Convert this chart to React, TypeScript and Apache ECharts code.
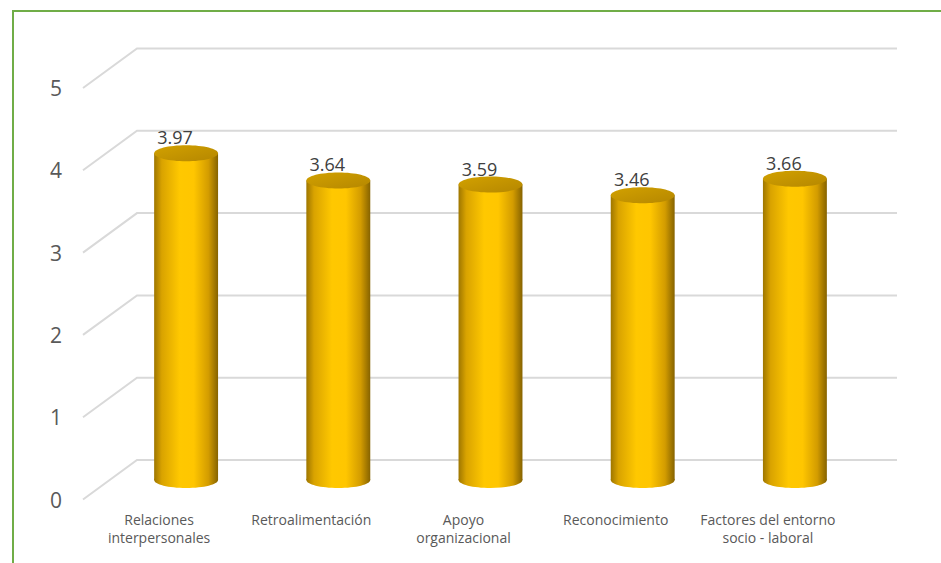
import React, { useEffect, useRef } from "react";
import * as echarts from "echarts";

const categories = [
  "Relaciones\ninterpersonales",
  "Retroalimentación",
  "Apoyo\norganizacional",
  "Reconocimiento",
  "Factores del entorno\nsocio - laboral",
];
const values = [3.97, 3.64, 3.59, 3.46, 3.66];
const yTicks = [0, 1, 2, 3, 4, 5];

export default function App() {
  const ref = useRef<HTMLDivElement>(null);
  useEffect(() => {
    if (!ref.current) return;
    const chart = echarts.init(ref.current, null, { renderer: "svg" });
    const sideGrad = () =>
      new echarts.graphic.LinearGradient(0, 0, 1, 0, [
        { offset: 0, color: "#9e7600" },
        { offset: 0.12, color: "#d9a300" },
        { offset: 0.4, color: "#ffc800" },
        { offset: 0.62, color: "#ffc600" },
        { offset: 0.85, color: "#d39c00" },
        { offset: 1, color: "#866300" },
      ]);
    const option: any = {
      animation: false,
      backgroundColor: "#ffffff",
      grid: [
        // back/middle plane where the cylinders stand
        { left: 110, right: 70, top: 68.5, bottom: 83 },
        // front plane, used for the axis labels
        { left: 83, right: 97, top: 88, bottom: 63.5 },
      ],
      xAxis: [
        {
          type: "category",
          gridIndex: 0,
          data: categories,
          axisLine: { show: false },
          axisTick: { show: false },
          axisLabel: { show: false },
        },
        {
          type: "category",
          gridIndex: 1,
          data: categories,
          axisLine: { show: false },
          axisTick: { show: false },
          axisLabel: {
            margin: 11,
            color: "#595959",
            fontFamily: "Open Sans",
            fontSize: 14,
            lineHeight: 18,
            interval: 0,
          },
        },
      ],
      yAxis: [
        {
          type: "value",
          gridIndex: 0,
          min: 0,
          max: 5,
          interval: 1,
          axisLine: { show: false },
          axisTick: { show: false },
          splitLine: { show: false },
          axisLabel: { show: false },
        },
        {
          type: "value",
          gridIndex: 1,
          min: 0,
          max: 5,
          interval: 1,
          axisLine: { show: false },
          axisTick: { show: false },
          splitLine: { show: false },
          axisLabel: {
            margin: 21,
            color: "#595959",
            fontFamily: "Open Sans",
            fontSize: 21,
          },
        },
      ],
      graphic: [
        {
          type: "rect",
          shape: { x: 13, y: 11, width: 940, height: 570 },
          style: { fill: "none", stroke: "#70ad47", lineWidth: 2 },
          silent: true,
        },
      ],
      series: [
        {
          type: "custom",
          xAxisIndex: 0,
          yAxisIndex: 0,
          z: 1,
          data: yTicks.map((v) => [0, v]),
          renderItem: (params: any, api: any) => {
            const cs = params.coordSys;
            const y = api.coord([0, api.value(1)])[1];
            const gx = cs.x;
            return {
              type: "polyline",
              shape: {
                points: [
                  [gx - 27, y + 19.5],
                  [gx + 27, y - 20],
                  [gx + cs.width + 26, y - 20],
                ],
              },
              style: { stroke: "#d9d9d9", lineWidth: 2, fill: "none" },
              silent: true,
            };
          },
        },
        {
          type: "custom",
          xAxisIndex: 0,
          yAxisIndex: 0,
          z: 2,
          data: values.map((v, i) => [i, v]),
          renderItem: (params: any, api: any) => {
            const i = api.value(0);
            const v = api.value(1);
            const top = api.coord([i, v]);
            const base = api.coord([i, 0]);
            const w = api.size([1, 0])[0] * 0.42;
            const rx = w / 2;
            const ry = 8;
            const cx = top[0];
            return {
              type: "group",
              children: [
                {
                  type: "ellipse",
                  shape: { cx, cy: base[1], rx, ry },
                  style: { fill: sideGrad() },
                },
                {
                  type: "rect",
                  shape: { x: cx - rx, y: top[1], width: w, height: base[1] - top[1] },
                  style: { fill: sideGrad() },
                },
                {
                  type: "ellipse",
                  shape: { cx, cy: top[1], rx, ry },
                  style: {
                    fill: new echarts.graphic.LinearGradient(0, 0, 1, 1, [
                      { offset: 0, color: "#d2a100" },
                      { offset: 1, color: "#b58700" },
                    ]),
                  },
                },
                {
                  type: "text",
                  x: cx - 11,
                  y: top[1] - ry - 8,
                  style: {
                    text: v.toFixed(2),
                    fill: "#404040",
                    font: "18px 'Open Sans'",
                    align: "center",
                    verticalAlign: "middle",
                  },
                },
              ],
            };
          },
        },
      ],
    };
    chart.setOption(option);
    return () => chart.dispose();
  }, []);
  return (
    <div
      ref={ref}
      style={{ position: "absolute", left: 0, top: 0, width: 941, height: 563 }}
    />
  );
}
